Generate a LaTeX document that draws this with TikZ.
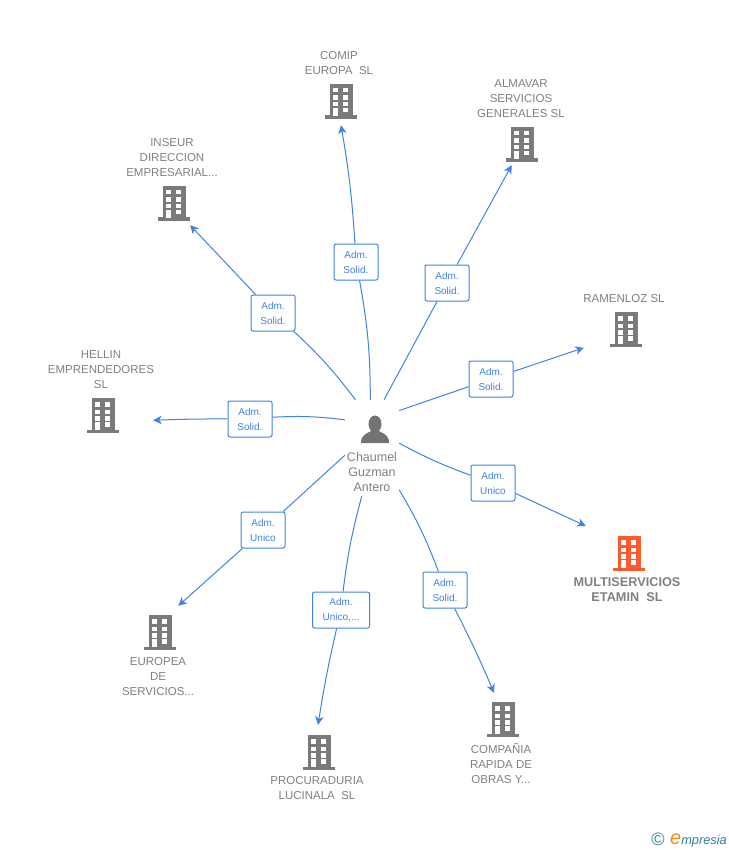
\documentclass[tikz,border=0pt]{standalone}
\usepackage{fontspec}
\setmainfont{Liberation Sans}
\usepackage{xcolor}
\usetikzlibrary{arrows.meta}
\definecolor{linkblue}{HTML}{3F83E0}
\definecolor{labelgray}{HTML}{808080}
\definecolor{iconorange}{HTML}{FF5A2B}
\definecolor{logoteal}{HTML}{2F7F96}
\definecolor{logoorange}{HTML}{F28C1E}
\tikzset{
    firm/.style={inner sep=0pt},
    hub/.style={minimum width=54pt, minimum height=96pt, inner sep=0pt},
    role/.style={draw=linkblue, fill=white, rounded corners=2pt, line width=1pt, text=linkblue,
        minimum width=44pt, minimum height=36pt, inner sep=1pt, align=center,
        font=\fontsize{10}{15}\selectfont},
    tag/.style={text=labelgray, align=center, inner sep=0pt, font=\fontsize{11.5}{15}\selectfont},
    link/.style={draw=linkblue, line width=1pt},
    linkto/.style={link, -{Stealth[length=8.5pt,width=8.5pt,inset=2.5pt]}},
    building/.pic={
        \fill (-11,-17) rectangle (12,15);
        \fill (-16,14.5) rectangle (16,18) ;
        \foreach \x/\y in {-8/-13, 2/-13, -8/-5.5, 2/-5.5, -8/1, 2/1, 2/7}
            \fill[white] (\x,\y) rectangle (\x+5,\y+4.5);
        \fill[white] (-8,7) rectangle (-3,15);
    },
    person/.pic={
        \fill (0,-6) ellipse (6.5 and 8.5);
        \fill (-14,13) .. controls (-14,5) and (-9,4) .. (-4,1)
            -- (4,1) .. controls (9,4) and (14,5) .. (14,13) -- cycle;
    }
}
\begin{document}
\begin{tikzpicture}[x=1pt,y=-1pt]
    \useasboundingbox (0,0) rectangle (728,850);

    \foreach \m/\x/\y/\w/\h in {
        comip/341/101/90/48, almavar/522/144/90/42, inseur/174/203/90/44,
        ramenloz/626/329/84/50, hellin/103/415/100/50, multi/629/553/86/60,
        europea/160/632/90/52, procuraduria/319/752/90/54, compania/503/719/90/52}
        \node[firm, minimum width=\w pt, minimum height=\h pt] (\m) at (\x,\y) {};

    \foreach \m in {comip, almavar, inseur, ramenloz, hellin,
        europea, procuraduria, compania}
        \pic[labelgray!95!black] at (\m) {building};
    \pic[iconorange] at (multi) {building};

    \foreach \m/\x/\y/\t in {
        comip/339/63/{COMIP\\EUROPA\ \ SL},
        almavar/521/98.5/{ALMAVAR\\SERVICIOS\\GENERALES SL},
        inseur/172/157.5/{INSEUR\\DIRECCION\\EMPRESARIAL...},
        ramenloz/624/298.5/{RAMENLOZ SL},
        hellin/101/369.5/{HELLIN\\EMPRENDEDORES\\SL},
        europea/158/677/{EUROPEA\\DE\\SERVICIOS...},
        procuraduria/317/788.5/{PROCURADURIA\\LUCINALA\ \ SL},
        compania/501/763/{COMPAÑIA\\RAPIDA DE\\OBRAS Y...}}
        \node[tag] (\m name) at (\x,\y) {\t};
    \node[tag, font=\fontsize{12.7}{15}\selectfont\bfseries] (multiname) at (627,589.5) {MULTISERVICIOS\\ETAMIN\ \ SL};

    \node[hub] (chaumel) at (372,448) {};
    \pic[labelgray!90!black] at (375,430) {person};
    \node[tag, font=\fontsize{12.5}{15}\selectfont] (chaumelname) at (372,472) {Chaumel\\Guzman\\Antero};

    \foreach \m/\x/\y/\t in {
        comip/356/262/{Adm.\\Solid.},
        almavar/447/283/{Adm.\\Solid.},
        inseur/273/313/{Adm.\\Solid.},
        ramenloz/491/379/{Adm.\\Solid.},
        hellin/250/419/{Adm.\\Solid.},
        multi/493/483/{Adm.\\Unico},
        europea/263/530/{Adm.\\Unico},
        compania/445/590/{Adm.\\Solid.}}
        \node[role] (\m role) at (\x,\y) {\t};
    \node[role, minimum width=57pt] (procuraduriarole) at (341,610) {Adm.\\Unico,...};

    \foreach \m/\s/\e/\a/\b in {
        comip/92.4/270/-5/-3, almavar/76.8/244.5/0/0, inseur/109.5/306/-5/0,
        ramenloz/54.9/204.3/0/0, hellin/134/354.3/-5/-1, multi/10.9/148.8/-4/0,
        europea/-165.5/55.3/0/0, procuraduria/-102.9/92.1/-4/-2, compania/-57.3/109/5/2}
    {
        \draw[link] (chaumel.\s) to[bend left=\a] (\m role);
        \draw[linkto] (\m role) to[bend left=\b] (\m.\e);
    }

    \node[text=logoteal, inner sep=0pt, font=\fontsize{18}{18}\selectfont] (logomark) at (658,839) {©};
    \node[text=logoteal, inner sep=0pt, anchor=west, font=\fontsize{12.8}{14}\selectfont\itshape] (logotext) at (670,840) {\textcolor{logoorange}{\fontsize{20}{20}\selectfont e}mpresia};
\end{tikzpicture}
\end{document}
